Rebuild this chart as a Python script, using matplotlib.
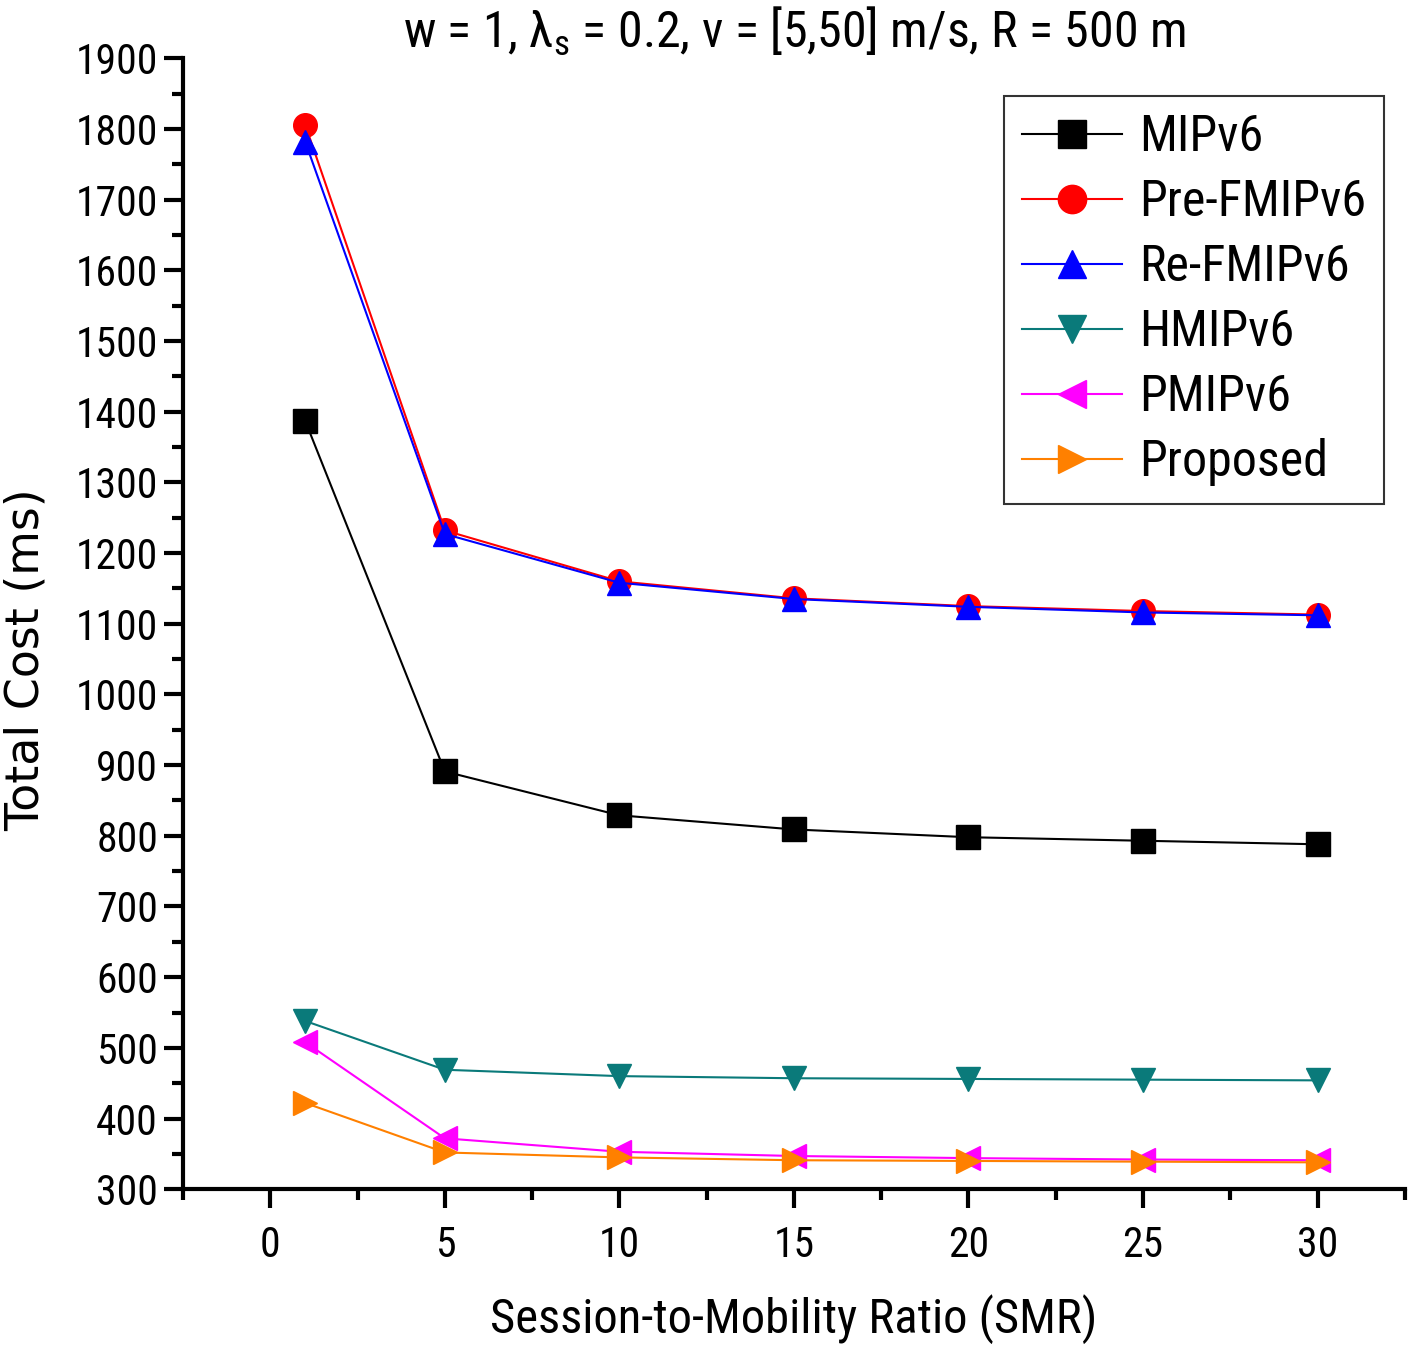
import numpy as np
import matplotlib.pyplot as plt
from matplotlib import font_manager
from matplotlib.ticker import MultipleLocator

smr = [1, 5, 10, 15, 20, 25, 30]
mipv6 = [1387, 891, 829, 809, 798, 793, 788]
pre_fmipv6 = [1806, 1232, 1160, 1136, 1125, 1118, 1113]
re_fmipv6 = [1782, 1227, 1158, 1135, 1124, 1116, 1112]
hmipv6 = [538, 469, 460, 457, 456, 455, 454]
pmipv6 = [508, 372, 353, 347, 344, 342, 341]
proposed = [422, 352, 345, 341, 340, 339, 338]

series = [
    ('MIPv6', mipv6, 'black', 's'),
    ('Pre-FMIPv6', pre_fmipv6, 'red', 'o'),
    ('Re-FMIPv6', re_fmipv6, 'blue', '^'),
    ('HMIPv6', hmipv6, '#0a7a7a', 'v'),
    ('PMIPv6', pmipv6, 'magenta', '<'),
    ('Proposed', proposed, '#ff8000', '>'),
]

# look for a narrow sans face; otherwise fall back to DejaVu at a smaller size
fonts = font_manager.fontManager.ttflist
names = {f.name for f in fonts}
narrow_font = None
stretch = 'normal'
scale = 1.0
for cand in ['Liberation Sans Narrow', 'Roboto Condensed', 'Open Sans Condensed',
             'Noto Sans Condensed', 'DejaVu Sans Condensed']:
    if cand in names:
        narrow_font = cand
        break
if narrow_font is None:
    cond = [f for f in fonts if f.stretch in ('condensed', 'semi-condensed')
            and 'Mono' not in f.name and 'Serif' not in f.name]
    if cond:
        narrow_font = cond[0].name
        stretch = cond[0].stretch
if narrow_font is None:
    narrow_font = 'DejaVu Sans'
    scale = 0.8

plt.rcParams['font.family'] = [narrow_font, 'DejaVu Sans']
plt.rcParams['font.stretch'] = stretch
plt.rcParams['mathtext.default'] = 'regular'

fig = plt.figure(figsize=(14.19, 13.56), dpi=100)
ax = fig.add_axes([0.129, 0.123, 0.861, 0.834])

for name, vals, col, mk in series:
    ax.plot(smr, vals, color=col, marker=mk, markersize=17, linewidth=1.5,
            label=name)

ax.set_xlim(-2.5, 32.5)
ax.set_ylim(300, 1900)
ax.xaxis.set_major_locator(MultipleLocator(5))
ax.xaxis.set_minor_locator(MultipleLocator(2.5))
ax.yaxis.set_major_locator(MultipleLocator(100))
ax.yaxis.set_minor_locator(MultipleLocator(50))

for s in ['top', 'right']:
    ax.spines[s].set_visible(False)
for s in ['left', 'bottom']:
    ax.spines[s].set_linewidth(3)

ax.tick_params(which='major', direction='out', length=14, width=3,
               labelsize=30 * scale)
ax.tick_params(which='minor', direction='out', length=8, width=3)
ax.tick_params(axis='x', which='major', pad=12)
ax.tick_params(axis='y', which='major', pad=4)

ax.set_xlabel('Session-to-Mobility Ratio (SMR)', fontsize=35 * scale, labelpad=20)
ax.set_ylabel('Total Cost (ms)', fontsize=33, family='DejaVu Sans',
              stretch='normal')
ax.yaxis.set_label_coords(-0.110, 0.468)
ax.set_title(r'w = 1, $\lambda_{s}$ = 0.2, v = [5,50] m/s, R = 500 m',
             fontsize=36 * scale, pad=4)

leg = ax.legend(loc='upper right', bbox_to_anchor=(0.983, 0.967),
                fontsize=36 * scale, frameon=True, fancybox=False,
                edgecolor='black', handlelength=2.0, labelspacing=0.34,
                borderpad=0.35, handletextpad=0.35, borderaxespad=0,
                markerscale=1.2)
leg.get_frame().set_linewidth(1.5)

fig.savefig('out.png', dpi=100)
